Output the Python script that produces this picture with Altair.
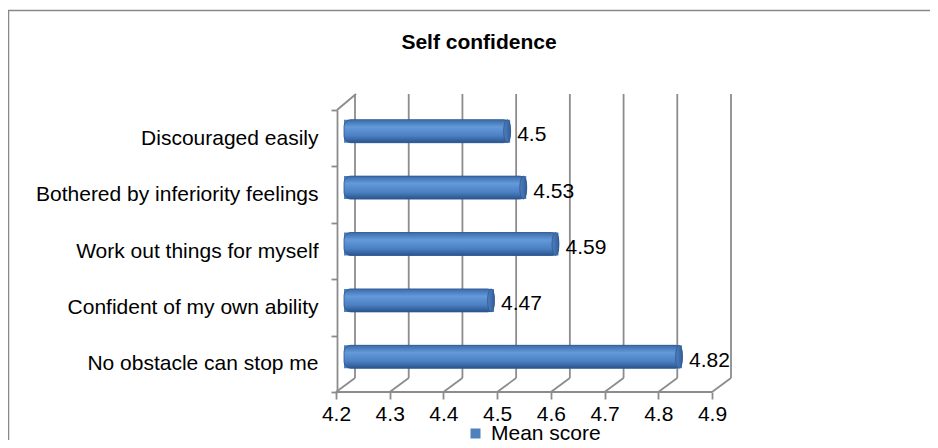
import altair as alt
import pandas as pd

title_text = "Self confidence"
categories = [
    "Discouraged easily",
    "Bothered by inferiority feelings",
    "Work out things for myself",
    "Confident of my own ability",
    "No obstacle can stop me ",
]
values = [4.5, 4.53, 4.59, 4.47, 4.82]
series_name = "Mean score"
x_ticks = [4.2, 4.3, 4.4, 4.5, 4.6, 4.7, 4.8, 4.9]

df = pd.DataFrame({"category": categories, "value": values, "base": [4.2] * len(values),
                   "series": [series_name] * len(values)})
ticks_df = pd.DataFrame({"t": x_ticks})

FONT = "Liberation Sans"
GRID = "#8c8c8c"
FS = 21

W, H = 376, 282
FRONT = -13   # front (floor) offset of the 3D grid
BACK = 6      # back wall offset of the 3D grid
DEPTH = 14    # vertical depth of the floor

x_scale = alt.Scale(domain=[4.2, 4.9], zero=False, nice=False)
y_scale = alt.Scale(paddingInner=0, paddingOuter=0)

y_axis = alt.Axis(title=None, labelFontSize=FS, labelFont=FONT, labelColor="#000",
                  labelPadding=13, tickSize=6, tickColor=GRID, tickWidth=1.8,
                  domainColor=GRID, domainWidth=1.8, tickBand="extent",
                  offset=12, labelLimit=500)
x_axis = alt.Axis(title=None, values=x_ticks, format=".1f", labelFontSize=FS, labelFont=FONT,
                  labelColor="#000", grid=False, domain=False, tickColor=GRID, tickWidth=1.8,
                  tickSize=7, tickOffset=FRONT, labelPadding=4, labelFlush=False)

base = alt.Chart(df)

# back wall grid lines
back_grid = alt.Chart(ticks_df).mark_rule(color=GRID, strokeWidth=1.8, xOffset=BACK, x2Offset=BACK).encode(
    x=alt.X("t:Q", scale=x_scale, axis=x_axis), x2="t:Q",
    y=alt.value(-16), y2=alt.value(H - DEPTH),
)
# floor slants
floor_slants = alt.Chart(ticks_df).mark_rule(color=GRID, strokeWidth=1.8, xOffset=FRONT, x2Offset=BACK).encode(
    x=alt.X("t:Q", scale=x_scale), x2="t:Q",
    y=alt.value(H), y2=alt.value(H - DEPTH),
)
# floor front edge
floor_front = alt.Chart(pd.DataFrame({"a": [x_ticks[0]], "b": [x_ticks[-1]]})).mark_rule(
    color=GRID, strokeWidth=1.8, xOffset=FRONT, x2Offset=FRONT).encode(
    x=alt.X("a:Q", scale=x_scale), x2="b:Q", y=alt.value(H),
)
# left wall top slant
wall_top = alt.Chart(pd.DataFrame({"a": [x_ticks[0]]})).mark_rule(
    color=GRID, strokeWidth=1.8, xOffset=-12, x2Offset=BACK + 1).encode(
    x=alt.X("a:Q", scale=x_scale), x2="a:Q", y=alt.value(0), y2=alt.value(-16),
)

legend_bars = base.mark_bar(size=23, yOffset=-7, x2Offset=-5).encode(
    x=alt.X("value:Q", scale=x_scale), x2="base:Q",
    y=alt.Y("category:N", sort=categories, scale=y_scale, axis=y_axis),
    color=alt.Color("series:N", scale=alt.Scale(range=["#4f81bd"]),
                    legend=alt.Legend(title=None, orient="none", legendX=116, legendY=313,
                                      labelFontSize=FS, labelFont=FONT, labelColor="#000",
                                      symbolType="square", symbolSize=100, symbolStrokeWidth=0,
                                      labelOffset=5)),
)

grad = alt.Gradient(
    gradient="linear", x1=0, y1=0, x2=0, y2=1,
    stops=[alt.GradientStop(color="#3b6aa9", offset=0),
           alt.GradientStop(color="#639ad9", offset=0.32),
           alt.GradientStop(color="#4b80c3", offset=0.7),
           alt.GradientStop(color="#2a548c", offset=1)],
)
bars = base.mark_bar(size=23, yOffset=-7, x2Offset=-5, color=grad, cornerRadius=7,
                     stroke="#2d5790", strokeWidth=0.8).encode(
    x=alt.X("value:Q", scale=x_scale), x2="base:Q",
    y=alt.Y("category:N", sort=categories, scale=y_scale),
)

cap_grad = alt.Gradient(
    gradient="linear", x1=0, y1=0, x2=1, y2=0,
    stops=[alt.GradientStop(color="#4f7fbd", offset=0),
           alt.GradientStop(color="#33609b", offset=1)],
)
caps = base.mark_point(
    shape="M0,-1 A0.3,1 0 1,1 0,1 A0.3,1 0 1,1 0,-1 Z", size=529, filled=True, opacity=1,
    color=cap_grad, stroke="#2d5790", strokeWidth=0.8, yOffset=-7, xOffset=-3,
).encode(
    x=alt.X("value:Q", scale=x_scale),
    y=alt.Y("category:N", sort=categories, scale=y_scale),
)

labels = base.mark_text(align="left", baseline="middle", dx=7, dy=-3, fontSize=FS, font=FONT,
                        color="#000").encode(
    x=alt.X("value:Q", scale=x_scale),
    y=alt.Y("category:N", sort=categories, scale=y_scale),
    text=alt.Text("value:Q"),
)

title = alt.Chart(pd.DataFrame({"title": [title_text]})).mark_text(
    fontSize=FS, fontWeight="bold", font=FONT, color="#000", align="center", baseline="middle").encode(
    text="title:N", x=alt.value(130), y=alt.value(-67),
)

border = alt.Chart(pd.DataFrame({"a": [0]})).mark_rect(fill=None, stroke="#888", strokeWidth=1.5).encode(
    x=alt.value(-340.5), x2=alt.value(700), y=alt.value(-99.5), y2=alt.value(400),
)

chart = alt.layer(border, back_grid, floor_slants, floor_front, wall_top,
                  legend_bars, bars, caps, labels, title).properties(
    width=W, height=H,
    padding={"left": 341, "top": 102, "right": 205, "bottom": 48},
    autosize=alt.AutoSizeParams(type="none"),
).configure_view(stroke=None)

chart.save("out.html", embed_options={"renderer": "svg", "actions": False})
